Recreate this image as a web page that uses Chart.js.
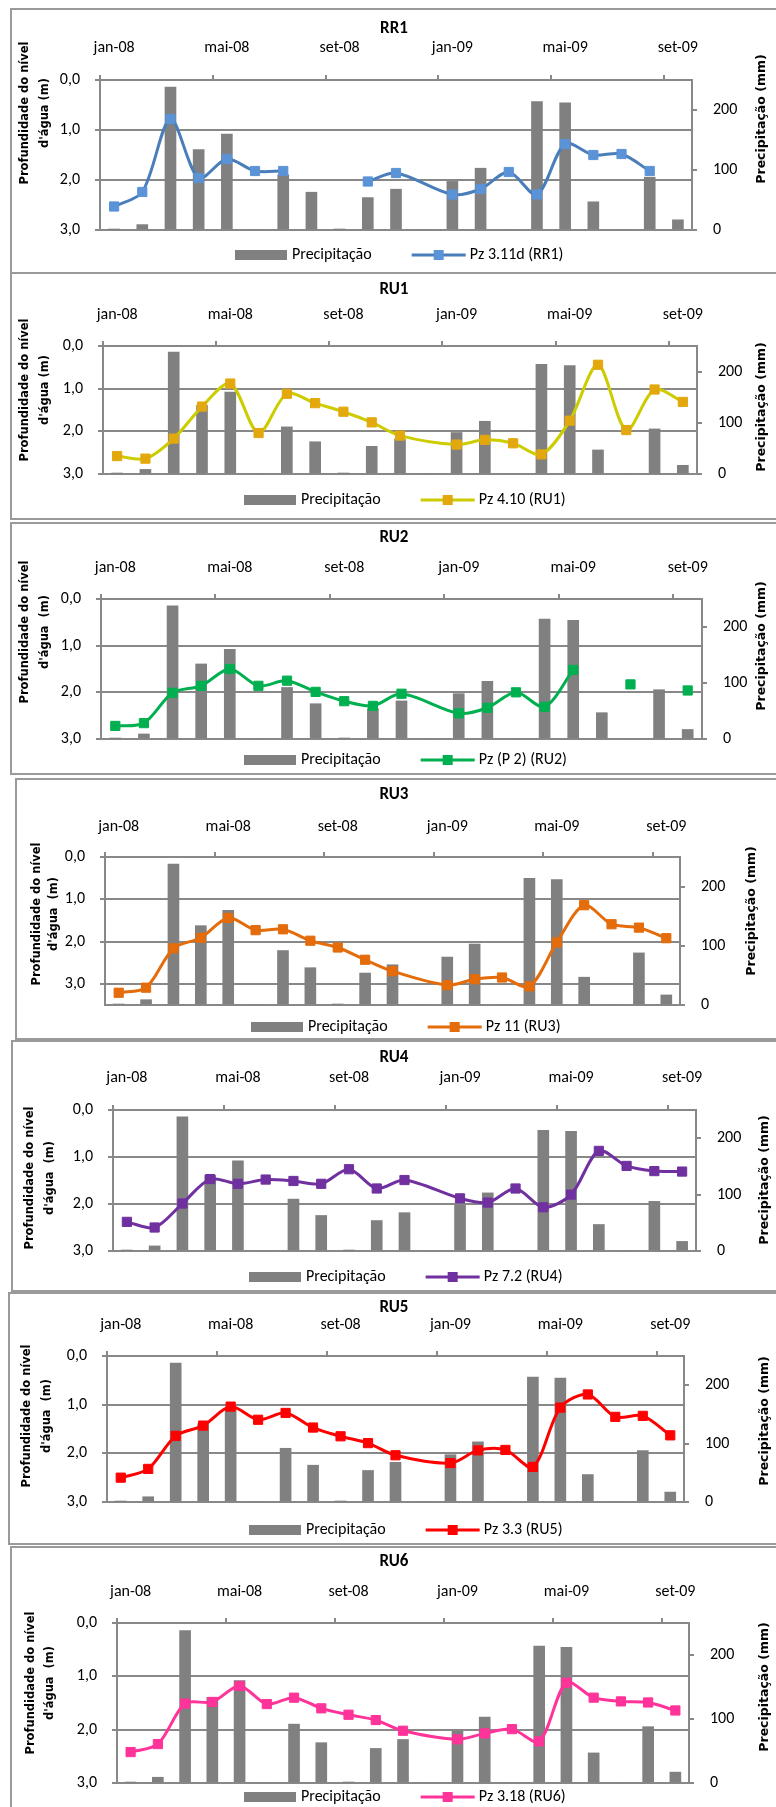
<!DOCTYPE html>
<html lang="pt">
<head>
<meta charset="UTF-8">
<title>Profundidade do nível d'água e precipitação</title>
<script src="https://cdn.jsdelivr.net/npm/chart.js"></script>
<style>
    body { margin: 0; background: #fff; }
    #page { position: relative; width: 776px; height: 1807px; overflow: hidden; }
    .box { position: absolute; width: 800px; border: 2px solid #9a9a9a; box-sizing: border-box; }
    canvas { position: absolute; left: 0; }
</style>
</head>
<body>
<div id="page"></div>
<script>
// eixo de meses: 0 = início de jan-08, 21 = fim de set-09
const monthCount = 21;
const dateTicks = [0, 4, 8, 12, 16, 20];
const dateLabels = ['jan-08', 'mai-08', 'set-08', 'jan-09', 'mai-09', 'set-09'];
const depthTicks = [0, 1, 2, 3];
const rainTicks = [0, 100, 200];

// precipitação mensal (mm), jan-08 ... set-09
const precipitacao = [1, 9, 238, 134, 160, 0, 92, 63, 1, 54, 68, 0, 81, 103, 0, 214, 212, 47, 0, 88, 17];

// campanhas de medição (índice do mês), dez-08 sem campanha
const campanhas = [0, 1, 2, 3, 4, 5, 6, 7, 8, 9, 10, 12, 13, 14, 15, 16, 17, 18, 19, 20];

// profundidade do nível d'água (m) por campanha; null = sem leitura
const pzRR1 = [2.53, 2.24, 0.78, 1.96, 1.58, 1.82, 1.82, null, null, 2.03, 1.86, 2.29, 2.18, 1.84, 2.29, 1.28, 1.50, 1.48, 1.82, null];
const pzRU1 = [2.58, 2.64, 2.17, 1.42, 0.88, 2.04, 1.12, 1.34, 1.54, 1.79, 2.10, 2.31, 2.20, 2.28, 2.54, 1.75, 0.44, 1.97, 1.02, 1.31];
const pzRU2 = [2.72, 2.66, 2.01, 1.86, 1.50, 1.86, 1.75, 1.99, 2.19, 2.29, 2.03, 2.45, 2.33, 2.00, 2.31, 1.52, null, 1.83, null, 1.96];
const pzRU3 = [3.21, 3.09, 2.16, 1.91, 1.44, 1.73, 1.71, 1.98, 2.14, 2.43, 2.70, 3.03, 2.89, 2.85, 3.06, 2.02, 1.14, 1.59, 1.67, 1.92];
const pzRU4 = [2.38, 2.50, 1.99, 1.47, 1.57, 1.48, 1.51, 1.57, 1.26, 1.67, 1.49, 1.88, 1.97, 1.67, 2.07, 1.80, 0.87, 1.19, 1.30, 1.31];
const pzRU5 = [2.50, 2.32, 1.64, 1.43, 1.04, 1.31, 1.17, 1.47, 1.65, 1.79, 2.04, 2.20, 1.94, 1.93, 2.28, 1.06, 0.79, 1.25, 1.23, 1.63];
const pzRU6 = [2.42, 2.27, 1.51, 1.48, 1.18, 1.52, 1.40, 1.60, 1.72, 1.82, 2.02, 2.18, 2.07, 1.99, 2.22, 1.12, 1.40, 1.47, 1.49, 1.64];

const gridColor = '#888888';
const barColor = '#808080';

// pick a Calibri-like font that is installed
function pickFont() {
    const ctx = document.createElement('canvas').getContext('2d');
    const probe = fam => {
        ctx.font = '40px ' + fam + ', monospace';
        return ctx.measureText('Precipitação jan-08').width;
    };
    const mono = probe('monospace');
    if (probe('"Carlito"') !== mono) return { family: '"Carlito"', size: 16, title: 17 };
    if (probe('"Liberation Sans Narrow"') !== mono) return { family: '"Liberation Sans Narrow"', size: 17, title: 17 };
    return { family: 'Roboto', size: 15, title: 16 };
}
const font = pickFont();
const leftTitleFont = 'bold 11.5px "DejaVu Sans"';
const rightTitleFont = 'bold 12.5px "DejaVu Sans"';

// page layout of each panel (page pixels)
const panels = [
    { title: 'RR1', label: 'Pz 3.11d (RR1)', values: pzRR1, line: '#4A7EBB', marker: '#5B93D7',
      top: 8, bottom: 274, boxLeft: 10, L: 100, R: 692, T: 80, B: 230, yMax: 3,
      titleY: 29, dateY: 48, leftX: [25, 45], leftY: 113, rightX: 762, rightY: 119, legendX: 235, legendY: 255,
      leftTitle: ['Profundidade do nível', "d'água (m)"] },
    { title: 'RU1', label: 'Pz 4.10 (RU1)', values: pzRU1, line: '#CCCC00', marker: '#E3A80D',
      top: 272, bottom: 520, boxLeft: 10, L: 103, R: 697, T: 346, B: 474, yMax: 3,
      titleY: 290, dateY: 315, leftX: [25, 45], leftY: 390, rightX: 762, rightY: 407, legendX: 244, legendY: 500,
      leftTitle: ['Profundidade do nível', "d'água (m)"] },
    { title: 'RU2', label: 'Pz (P 2) (RU2)', values: pzRU2, line: '#00B050', marker: '#00B050',
      top: 522, bottom: 775, boxLeft: 10, L: 101, R: 702, T: 599, B: 739, yMax: 3,
      titleY: 538, dateY: 568, leftX: [25, 45], leftY: 632, rightX: 762, rightY: 646, legendX: 244, legendY: 760,
      leftTitle: ['Profundidade do nível', "d'água  (m)"] },
    { title: 'RU3', label: 'Pz 11 (RU3)', values: pzRU3, line: '#E46C0A', marker: '#E46C0A',
      top: 778, bottom: 1040, boxLeft: 15, L: 105, R: 680, T: 857, B: 1005, yMax: 3.5,
      titleY: 795, dateY: 827, leftX: [37, 54], leftY: 914, rightX: 752, rightY: 911, legendX: 251, legendY: 1027,
      leftTitle: ['Profundidade do nível', "d'água  (m)"] },
    { title: 'RU4', label: 'Pz 7.2 (RU4)', values: pzRU4, line: '#7030A0', marker: '#7030A0',
      top: 1040, bottom: 1292, boxLeft: 11, L: 113, R: 696, T: 1110, B: 1251, yMax: 3,
      titleY: 1058, dateY: 1078, leftX: [30, 50], leftY: 1178, rightX: 765, rightY: 1180, legendX: 249, legendY: 1277,
      leftTitle: ['Profundidade do nível', "d'água  (m)"] },
    { title: 'RU5', label: 'Pz 3.3 (RU5)', values: pzRU5, line: '#FF0000', marker: '#FF0000',
      top: 1292, bottom: 1545, boxLeft: 8, L: 107, R: 684, T: 1356, B: 1502, yMax: 3,
      titleY: 1308, dateY: 1325, leftX: [27, 47], leftY: 1416, rightX: 765, rightY: 1421, legendX: 249, legendY: 1530,
      leftTitle: ['Profundidade do nível', "d'água  (m)"] },
    { title: 'RU6', label: 'Pz 3.18 (RU6)', values: pzRU6, line: '#FF3399', marker: '#FF3399',
      top: 1546, bottom: 1830, boxLeft: 10, L: 117, R: 689, T: 1623, B: 1783, yMax: 3,
      titleY: 1562, dateY: 1592, leftX: [31, 50], leftY: 1683, rightX: 765, rightY: 1687, legendX: 244, legendY: 1797,
      leftTitle: ['Profundidade do nível', "d'água  (m)"] }
];

function rotatedText(ctx, text, x, y) {
    ctx.save();
    ctx.translate(x, y);
    ctx.rotate(-Math.PI / 2);
    ctx.fillText(text, 0, 0);
    ctx.restore();
}

// frame, titles and legend (Excel style)
const panelText = {
    id: 'panelText',
    beforeDatasetsDraw(chart) {
        const a = chart.chartArea, ctx = chart.ctx;
        ctx.save();
        ctx.strokeStyle = gridColor;
        ctx.lineWidth = 2;
        ctx.strokeRect(a.left, a.top, a.right - a.left, a.bottom - a.top);
        ctx.restore();
    },
    afterDraw(chart, args, o) {
        const ctx = chart.ctx;
        const [lineSet, barSet] = chart.data.datasets;
        ctx.save();
        ctx.fillStyle = '#000';
        ctx.textAlign = 'center';
        ctx.textBaseline = 'middle';
        ctx.font = 'bold ' + font.title + 'px ' + font.family;
        ctx.fillText(o.title, 394, o.titleY);

        ctx.font = leftTitleFont;
        o.leftTitle.forEach((t, i) => rotatedText(ctx, t, o.leftX[i], o.leftY));
        ctx.font = rightTitleFont;
        rotatedText(ctx, 'Precipitação (mm)', o.rightX, o.rightY);

        // legend
        ctx.font = font.size + 'px ' + font.family;
        ctx.textAlign = 'left';
        let x = o.legendX;
        const y = o.legendY;
        ctx.fillStyle = barColor;
        ctx.fillRect(x, y - 5, 52, 10);
        ctx.fillStyle = '#000';
        ctx.fillText(barSet.label, x + 57, y);
        x += 57 + ctx.measureText(barSet.label).width + 40;
        ctx.strokeStyle = lineSet.borderColor;
        ctx.lineWidth = 3;
        ctx.beginPath();
        ctx.moveTo(x, y);
        ctx.lineTo(x + 54, y);
        ctx.stroke();
        ctx.fillStyle = lineSet.pointBackgroundColor;
        ctx.fillRect(x + 22, y - 5, 10, 10);
        ctx.fillStyle = '#000';
        ctx.fillText(lineSet.label, x + 58, y);
        ctx.restore();
    }
};

Chart.defaults.font.family = font.family;
Chart.defaults.font.size = font.size;
Chart.defaults.color = '#000';

const page = document.getElementById('page');

panels.forEach(p => {
    const box = document.createElement('div');
    box.className = 'box';
    box.style.left = p.boxLeft + 'px';
    box.style.top = p.top + 'px';
    box.style.height = (p.bottom - p.top) + 'px';
    page.appendChild(box);

    const H = p.bottom - p.top;
    const canvas = document.createElement('canvas');
    canvas.width = 776;
    canvas.height = H;
    canvas.style.top = p.top + 'px';
    page.appendChild(canvas);

    // fixed axis sizes, so the plot area lands where the reference has it
    const sideY = 60, sideX = 50;
    const monthPx = (p.R - p.L) / monthCount;
    const tickSpec = { drawOnChartArea: false, drawTicks: true, tickLength: 5, tickColor: gridColor, lineWidth: 2, color: gridColor };

    new Chart(canvas, {
        type: 'bar',
        data: {
            datasets: [
                {
                    type: 'line',
                    label: p.label,
                    yAxisID: 'yL',
                    order: 0,
                    data: campanhas.map((m, i) => ({ x: m + 0.5, y: p.values[i] })),
                    borderColor: p.line,
                    borderWidth: 3,
                    tension: 0.3,
                    spanGaps: false,
                    pointStyle: 'rect',
                    pointRadius: 6.5,
                    pointBackgroundColor: p.marker,
                    pointBorderColor: p.marker,
                    pointBorderWidth: 1,
                    clip: false
                },
                {
                    type: 'bar',
                    label: 'Precipitação',
                    yAxisID: 'yR',
                    order: 1,
                    data: precipitacao.map((v, i) => ({ x: i + 0.5, y: v })),
                    backgroundColor: barColor,
                    barThickness: 11
                }
            ]
        },
        options: {
            responsive: false,
            animation: false,
            events: [],
            layout: {
                padding: {
                    left: p.L - sideY,
                    right: 776 - p.R - sideY,
                    top: p.T - p.top - sideX,
                    bottom: p.bottom - p.B
                }
            },
            plugins: {
                legend: { display: false },
                title: { display: false },
                tooltip: { enabled: false },
                panelText: {
                    title: p.title,
                    titleY: p.titleY - p.top,
                    leftTitle: p.leftTitle,
                    leftX: p.leftX,
                    leftY: p.leftY - p.top,
                    rightX: p.rightX,
                    rightY: p.rightY - p.top,
                    legendX: p.legendX,
                    legendY: p.legendY - p.top
                }
            },
            scales: {
                x: {
                    type: 'linear',
                    position: 'top',
                    min: 0,
                    max: monthCount,
                    offset: false,
                    afterFit: s => { s.height = sideX; },
                    afterBuildTicks: s => { s.ticks = dateTicks.map(v => ({ value: v })); },
                    ticks: {
                        callback: v => dateLabels[dateTicks.indexOf(v)],
                        labelOffset: monthPx / 2,
                        padding: p.T - p.dateY - 5 - 0.6 * font.size,
                        maxRotation: 0,
                        autoSkip: false
                    },
                    grid: Object.assign({ offset: false }, tickSpec),
                    border: { display: false }
                },
                yL: {
                    position: 'left',
                    reverse: true,
                    min: 0,
                    max: p.yMax,
                    afterFit: s => { s.width = sideY; },
                    afterBuildTicks: s => { s.ticks = depthTicks.map(v => ({ value: v })); },
                    ticks: {
                        callback: v => v.toFixed(1).replace('.', ','),
                        padding: 15
                    },
                    grid: { color: gridColor, lineWidth: 2, tickLength: 5, tickColor: gridColor },
                    border: { display: false }
                },
                yR: {
                    position: 'right',
                    min: 0,
                    max: 250,
                    afterFit: s => { s.width = sideY; },
                    afterBuildTicks: s => { s.ticks = rainTicks.map(v => ({ value: v })); },
                    ticks: {
                        callback: v => String(v),
                        padding: 16
                    },
                    grid: tickSpec,
                    border: { display: false }
                }
            }
        },
        plugins: [panelText]
    });
});
</script>
</body>
</html>
